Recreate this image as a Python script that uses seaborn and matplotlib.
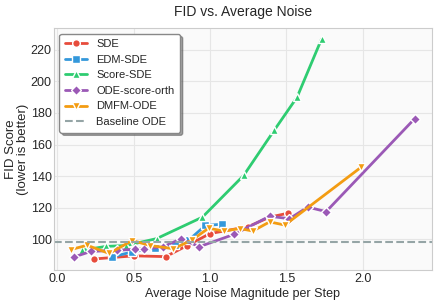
import matplotlib
matplotlib.use("Agg")
import matplotlib.pyplot as plt
import seaborn as sns
import pandas as pd

sde_x = [0.24, 0.50, 0.71, 0.85, 1.00, 1.25, 1.39, 1.51]
sde_y = [87.5, 89.5, 89.0, 96.0, 103.6, 108.0, 114.0, 116.5]

edm_x = [0.36, 0.49, 0.64, 0.77, 0.86, 0.97, 1.08]
edm_y = [88.8, 92.0, 94.5, 96.6, 99.4, 108.8, 109.5]

score_x = [0.16, 0.32, 0.45, 0.65, 0.95, 1.22, 1.42, 1.57, 1.73]
score_y = [93.0, 95.5, 96.0, 100.4, 114.0, 140.4, 169.0, 190.0, 226.8]

orth_x = [0.11, 0.22, 0.39, 0.51, 0.57, 0.69, 0.81, 0.93, 1.16, 1.39, 1.52, 1.64, 1.76, 2.34]
orth_y = [88.8, 92.3, 93.0, 93.7, 94.0, 95.1, 100.3, 95.3, 103.2, 114.6, 113.0, 120.4, 117.5, 176.4]

dmfm_x = [0.09, 0.195, 0.34, 0.49, 0.61, 0.76, 0.88, 0.99, 1.09, 1.195, 1.28, 1.39, 1.49, 1.99]
dmfm_y = [93.5, 96.2, 91.0, 99.2, 96.0, 94.0, 99.4, 107.0, 105.2, 106.8, 105.2, 111.0, 109.0, 145.7]

baseline_ode = 98.3

series = [
    ("SDE", sde_x, sde_y, "#e74c3c", "o"),
    ("EDM-SDE", edm_x, edm_y, "#3498db", "s"),
    ("Score-SDE", score_x, score_y, "#2ecc71", "^"),
    ("ODE-score-orth", orth_x, orth_y, "#9b59b6", "D"),
    ("DMFM-ODE", dmfm_x, dmfm_y, "#f39c12", "v"),
]

sns.set_theme(style="whitegrid")
plt.rcParams['font.family'] = ['Liberation Sans', 'DejaVu Sans']

fig = plt.figure(figsize=(4.38, 3.02), dpi=100)
ax = fig.add_axes([0.123, 0.106, 0.863, 0.801])
ax.set_facecolor("#fafafa")

for name, xs, ys, col, mk in series:
    df = pd.DataFrame({"x": xs, "y": ys})
    sns.lineplot(data=df, x="x", y="y", ax=ax, color=col, marker=mk,
                 markersize=5.5, markeredgecolor="white", markeredgewidth=1.0,
                 linewidth=2, label=name, sort=False)

ax.axhline(baseline_ode, color="#95a5a6", linestyle="--", linewidth=1.5, label="Baseline ODE")

ax.set_title("FID vs. Average Noise", fontsize=10, pad=9)
ax.set_xlabel("Average Noise Magnitude per Step", fontsize=9, labelpad=2)
ax.set_ylabel("FID Score\n(lower is better)", fontsize=9.5, labelpad=1, linespacing=1.05)
ax.tick_params(axis="both", labelsize=9, pad=1.5, length=0)
ax.tick_params(axis="x", pad=2.5)
ax.set_xticks([0.0, 0.5, 1.0, 1.5, 2.0])
ax.set_yticks([100, 120, 140, 160, 180, 200, 220])
ax.grid(color="#e6e6e6", linewidth=0.8)
for s in ax.spines.values():
    s.set_color("#cccccc")
    s.set_linewidth(0.8)

leg = ax.legend(loc="upper left", fontsize=8, frameon=True, shadow=True, fancybox=True,
                borderpad=0.5, labelspacing=0.5, handlelength=2.0)
leg.get_frame().set_edgecolor("#888888")
leg.get_frame().set_facecolor("white")

fig.savefig("out.png", dpi=100)
